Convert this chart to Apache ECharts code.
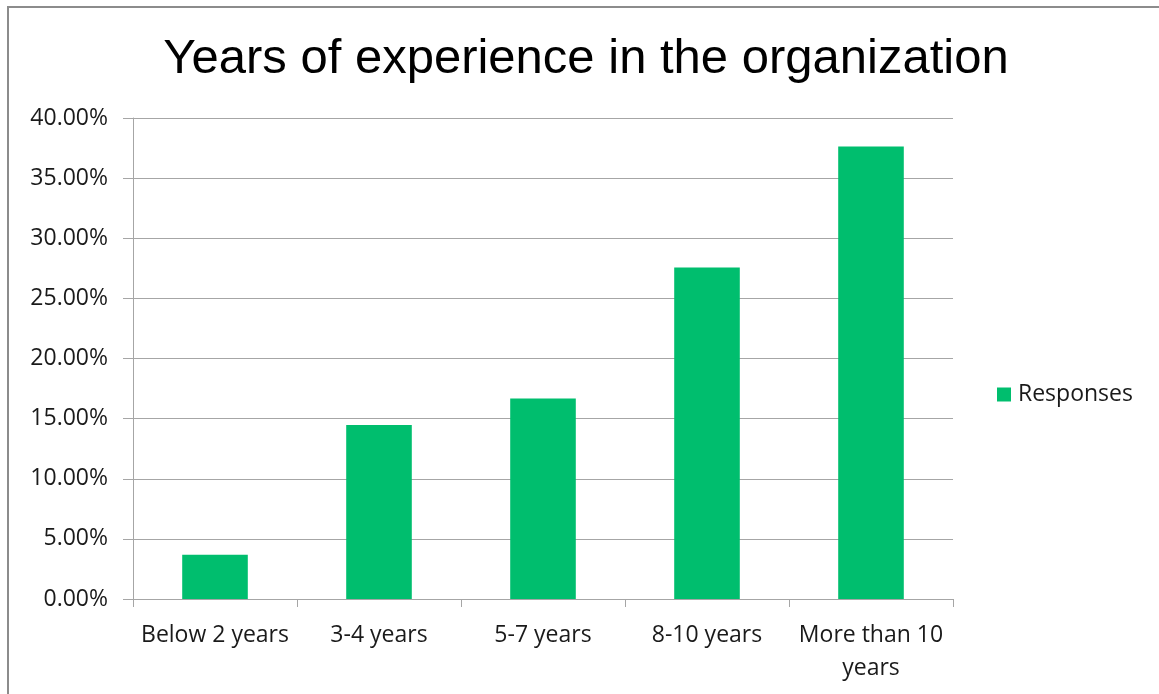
<!DOCTYPE html>
<html>
<head>
<meta charset="utf-8">
<script src="https://cdn.jsdelivr.net/npm/echarts@6/dist/echarts.min.js"></script>
<style>
  html, body { margin: 0; padding: 0; background: #fff; }
  #chart { width: 1159px; height: 694px; }
</style>
</head>
<body>
<div id="chart"></div>
<script>
// Share of respondents by years spent in the organization (percent)
const categories = ['Below 2 years', '3-4 years', '5-7 years', '8-10 years', 'More than 10\nyears'];
const responses = [3.67, 14.47, 16.67, 27.57, 37.62];
const seriesName = 'Responses';
const titleText = 'Years of experience in the organization';

const labelFont = '"Open Sans", Lato, sans-serif';
const green = '#00BE6E';
const gridGray = '#A6A6A6';

const chart = echarts.init(document.getElementById('chart'), null, { renderer: 'canvas' });
chart.setOption({
  animation: false,
  backgroundColor: '#ffffff',
  title: {
    text: titleText,
    left: 581,
    top: 30,
    textAlign: 'center',
    textStyle: {
      fontFamily: '"Liberation Sans", Arial, sans-serif',
      fontSize: 49,
      fontWeight: 'normal',
      color: '#000'
    }
  },
  graphic: [{
    type: 'rect',
    shape: { x: 8, y: 7, width: 1200, height: 800 },
    style: { fill: 'none', stroke: '#8C8C8C', lineWidth: 2 },
    silent: true
  }],
  legend: {
    data: [seriesName],
    left: 997,
    top: 383,
    padding: 0,
    itemWidth: 14,
    itemHeight: 14,
    icon: 'rect',
    textStyle: { fontFamily: labelFont, fontSize: 23, color: '#1a1a1a', padding: [0, 0, 0, 2] }
  },
  grid: { left: 133, right: 206, top: 118, bottom: 95, containLabel: false },
  xAxis: {
    type: 'category',
    data: categories,
    axisLine: { lineStyle: { color: gridGray, width: 1 } },
    axisTick: { show: true, length: 8, alignWithLabel: false, lineStyle: { color: gridGray } },
    axisLabel: {
      interval: 0,
      margin: 20,
      fontFamily: labelFont,
      fontSize: 23,
      lineHeight: 33,
      color: '#1a1a1a'
    }
  },
  yAxis: {
    type: 'value',
    min: 0,
    max: 40,
    interval: 5,
    axisLine: { show: true, lineStyle: { color: gridGray, width: 1 } },
    axisTick: { show: true, length: 10, inside: false, lineStyle: { color: gridGray } },
    splitLine: { show: true, lineStyle: { color: gridGray, width: 1 } },
    axisLabel: {
      margin: 25,
      fontFamily: labelFont,
      fontSize: 23,
      color: '#1a1a1a',
      formatter: v => v.toFixed(2) + '%'
    }
  },
  series: [{
    name: seriesName,
    type: 'bar',
    data: responses,
    barWidth: '40%',
    itemStyle: { color: green }
  }]
});
</script>
</body>
</html>
